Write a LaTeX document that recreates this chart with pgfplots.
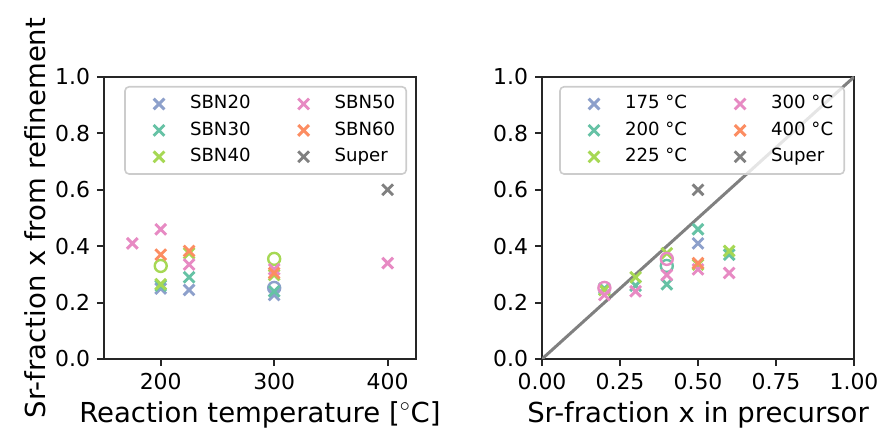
\documentclass[border=0pt]{standalone}
\usepackage{pgfplots}
\pgfplotsset{compat=1.18}
\usepackage{fontspec}
\setmainfont{DejaVu Sans}
\definecolor{c1}{HTML}{8DA0CB}
\definecolor{c2}{HTML}{66C2A5}
\definecolor{c3}{HTML}{A6D854}
\definecolor{c4}{HTML}{E78AC3}
\definecolor{c5}{HTML}{FC8D62}
\definecolor{c6}{HTML}{808080}
\definecolor{axc}{HTML}{262626}
\pgfplotsset{
  myax/.style={
    scale only axis, width=156bp, height=141bp, anchor=south west,
    axis line style={axc, line width=1bp},
    every tick/.style={axc, line width=1bp},
    tick align=outside, major tick length=3.5bp,
    xtick pos=bottom, ytick pos=left,
    /pgf/number format/assume math mode=true,
    tick label style={font=\fontsize{11}{13}\selectfont, text=black},
    label style={font=\fontsize{13.8}{16}\selectfont},
    ymin=0, ymax=1, ytick={0,0.2,0.4,0.6,0.8,1},
    yticklabel style={/pgf/number format/.cd, fixed, fixed zerofill, precision=1},
    xlabel style={yshift=1bp},
    legend columns=3, transpose legend,
    legend cell align=left,
    legend image code/.code={\path[draw=none,fill=none] (0bp,0bp) (27bp,0bp); \draw[mark repeat=2,mark phase=2,#1] plot coordinates {(0bp,0bp) (13.5bp,0bp) (27bp,0bp)};},
    legend style={draw=black!20, line width=0.8bp, rounded corners=2bp,
      fill=white, fill opacity=0.8, text opacity=1,
      font=\fontsize{9.1}{11}\selectfont,
      at={(1,1)}, anchor=north east, xshift=-4.5bp, yshift=-4.5bp,
      inner xsep=3.5bp, inner ysep=2bp,
      nodes={inner sep=2bp, text height=7bp, text depth=2.2bp},
      /tikz/every even column/.append style={column sep=11bp}},
    xm/.style={only marks, mark=x, mark size=3.8bp, line width=1.45bp},
    om/.style={only marks, mark=o, mark size=3.0bp, line width=1.2bp},
  }
}
\begin{document}
\begin{tikzpicture}
\useasboundingbox (0,0) rectangle (440bp,216bp);
% panel a
\begin{axis}[myax, at={(52bp,36.5bp)},
  xmin=150, xmax=425, xtick={200,300,400},
  xlabel={Reaction temperature [$^\circ$C]},
  ylabel={Sr-fraction x from refinement},
  ylabel style={yshift=-2bp},
]
\addplot[xm, c1] coordinates {(200,0.25) (225,0.245) (300,0.227)};
\addlegendentry{SBN20}
\addplot[om, c1, forget plot] coordinates {(300,0.252)};
\addplot[xm, c2] coordinates {(200,0.26) (225,0.29) (300,0.24)};
\addlegendentry{SBN30}
\addplot[xm, c3] coordinates {(200,0.265) (225,0.375) (300,0.298)};
\addlegendentry{SBN40}
\addplot[om, c3, forget plot] coordinates {(200,0.33) (300,0.355)};
\addplot[xm, c4] coordinates {(175,0.41) (200,0.46) (225,0.335) (300,0.318) (400,0.34)};
\addlegendentry{SBN50}
\addplot[xm, c5] coordinates {(200,0.37) (225,0.383) (300,0.305)};
\addlegendentry{SBN60}
\addplot[xm, c6] coordinates {(400,0.6)};
\addlegendentry{Super}
\node[anchor=south west, inner sep=0pt, font=\fontsize{12.5}{14}\selectfont] at (rel axis cs:0,1) [yshift=6bp] {a)};
\end{axis}
% panel b
\begin{axis}[myax, at={(271bp,36.5bp)},
  xmin=0, xmax=1, xtick={0,0.25,0.5,0.75,1},
  xticklabel style={/pgf/number format/.cd, fixed, fixed zerofill, precision=2},
  xlabel={Sr-fraction x in precursor},
]
\addplot[c6, line width=1.5bp, no marks, forget plot] coordinates {(0,0) (1,1)};
\addplot[xm, c1] coordinates {(0.5,0.41)};
\addlegendentry{175 °C}
\addplot[xm, c2] coordinates {(0.2,0.25) (0.3,0.26) (0.4,0.265) (0.5,0.46) (0.6,0.37)};
\addlegendentry{200 °C}
\addplot[om, c2, forget plot] coordinates {(0.4,0.33)};
\addplot[xm, c3] coordinates {(0.2,0.245) (0.3,0.29) (0.4,0.375) (0.5,0.335) (0.6,0.383)};
\addlegendentry{225 °C}
\addplot[xm, c4] coordinates {(0.2,0.227) (0.3,0.24) (0.4,0.298) (0.5,0.318) (0.6,0.305)};
\addlegendentry{300 °C}
\addplot[om, c4, forget plot] coordinates {(0.2,0.252) (0.4,0.355)};
\addplot[xm, c5] coordinates {(0.5,0.34)};
\addlegendentry{400 °C}
\addplot[xm, c6] coordinates {(0.5,0.6)};
\addlegendentry{Super}
\node[anchor=south west, inner sep=0pt, font=\fontsize{12.5}{14}\selectfont] at (rel axis cs:0,1) [yshift=6bp] {b)};
\end{axis}
\end{tikzpicture}
\end{document}
